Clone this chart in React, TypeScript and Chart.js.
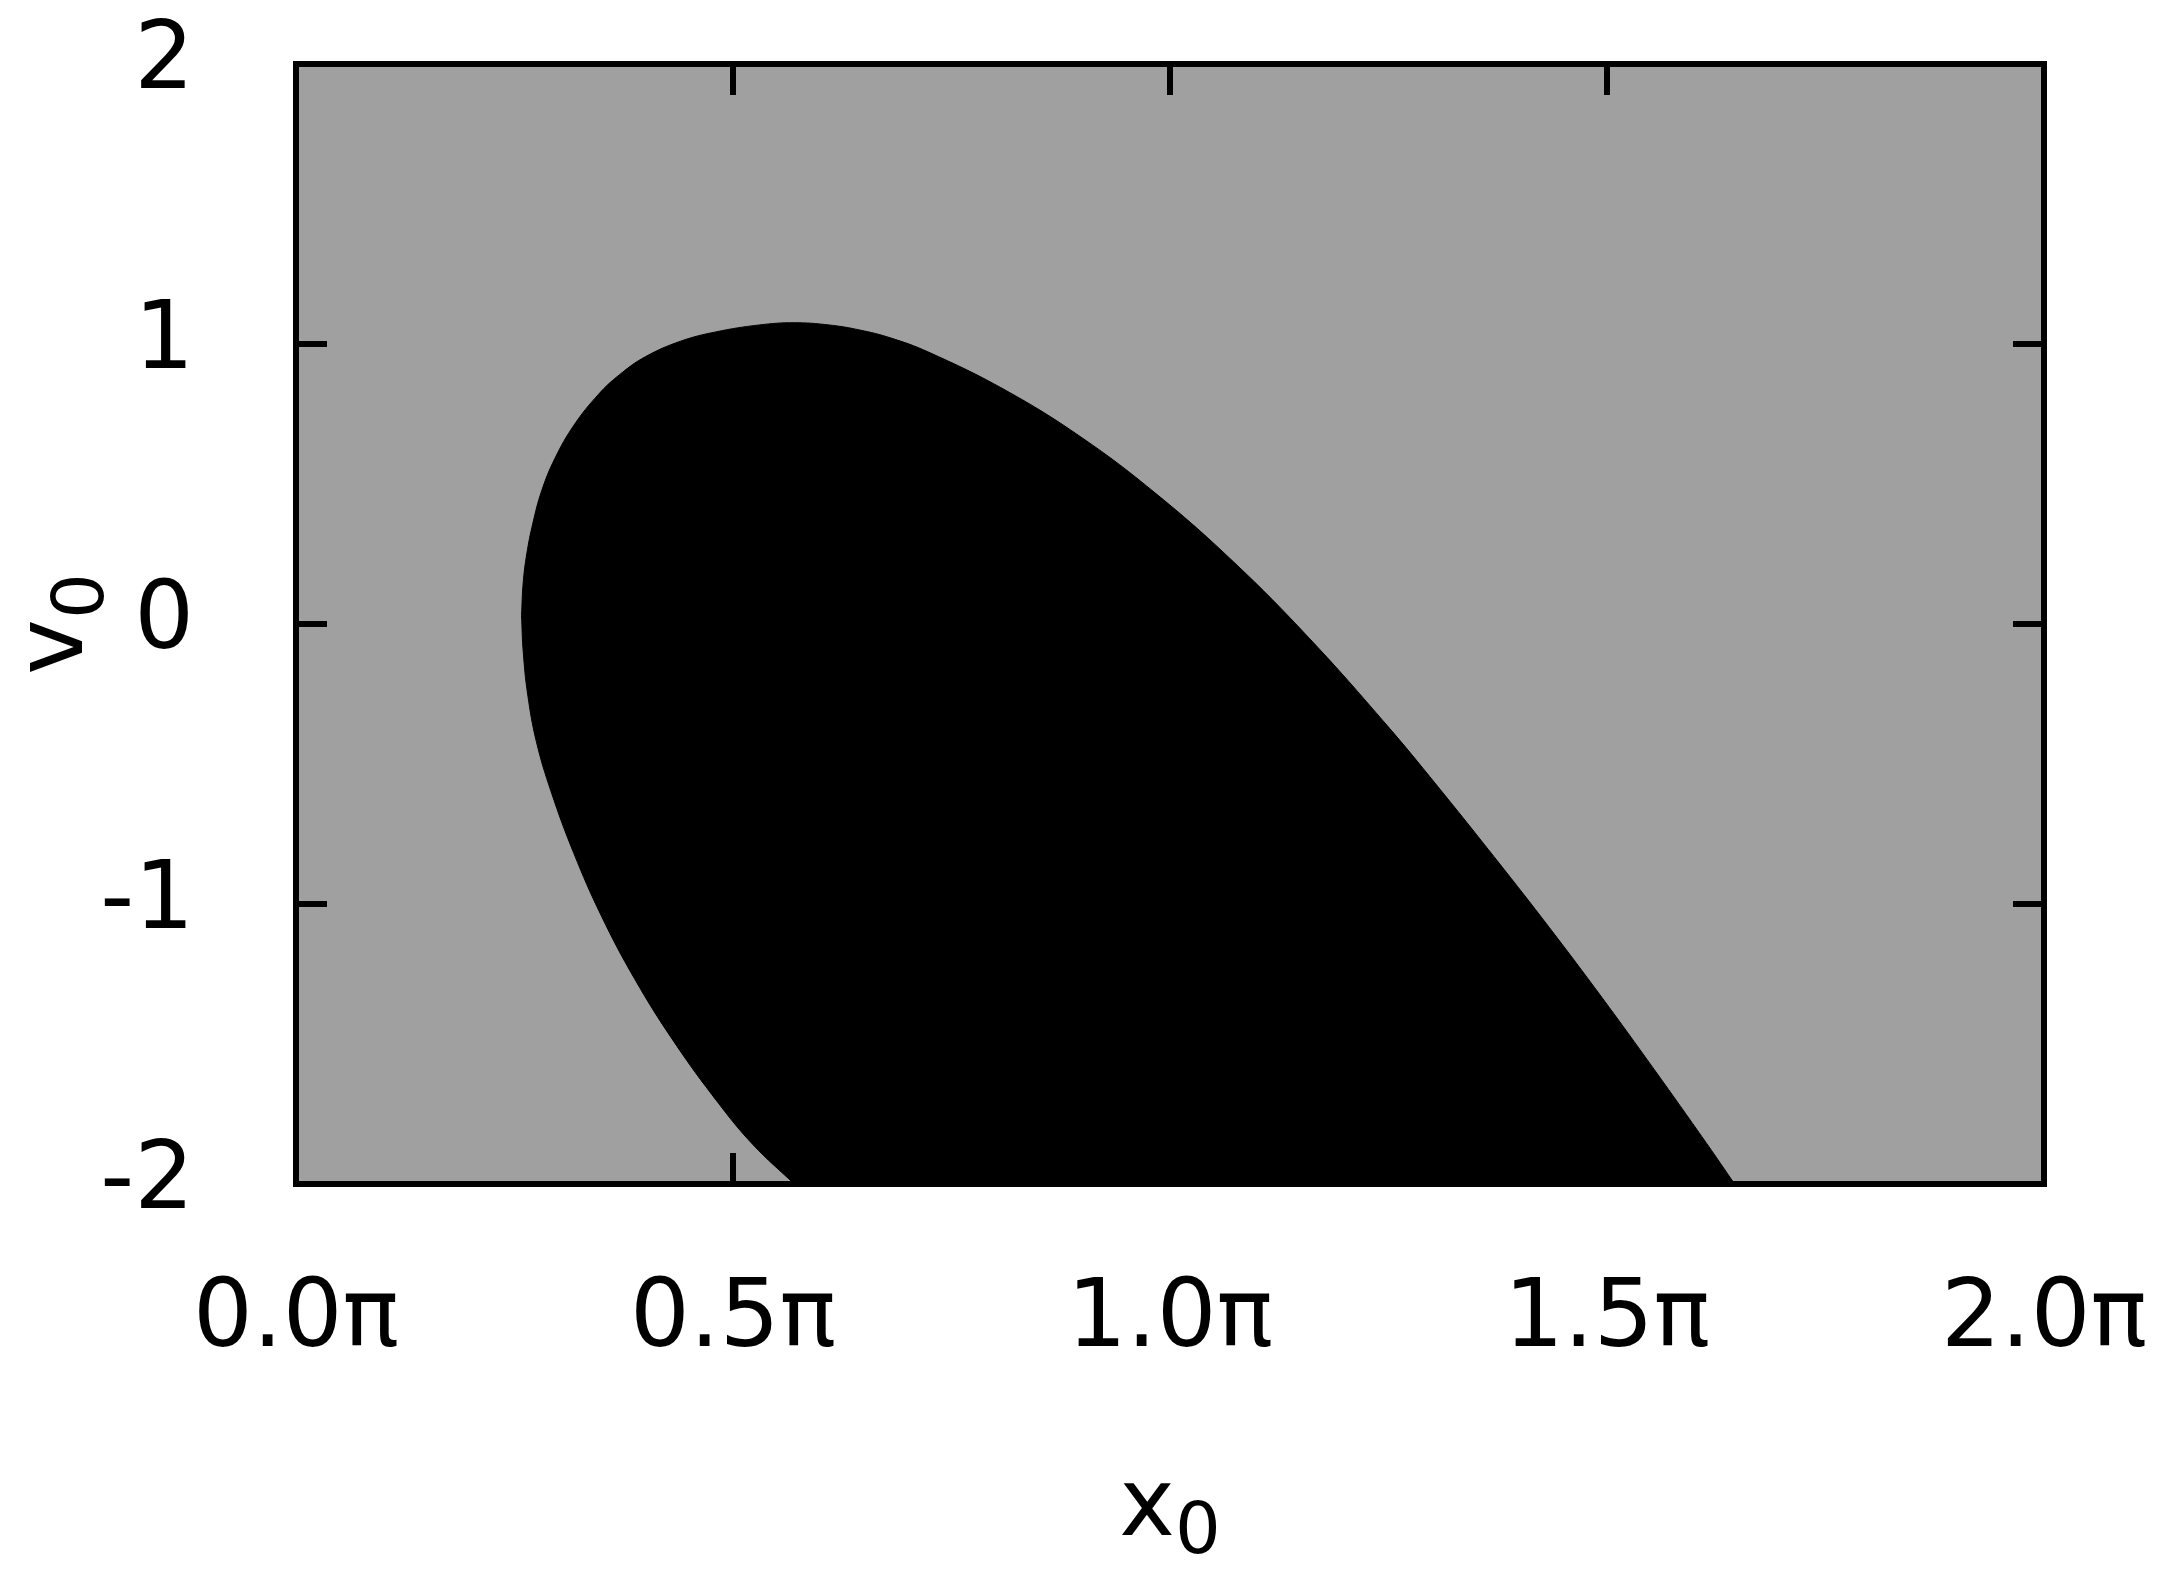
import React, { useEffect, useRef } from "react";
import { Chart, registerables } from "chart.js";

Chart.register(...registerables);

// x values are in units of π (points below v = -2 are clipped by the plot frame)
const upperBoundaryX = [0.258, 0.26, 0.264, 0.271, 0.281, 0.296, 0.318, 0.346, 0.37, 0.4, 0.44, 0.48, 0.53, 0.57, 0.61, 0.645, 0.68, 0.723, 0.81, 0.898, 0.985, 1.073, 1.16, 1.248, 1.305, 1.374, 1.434, 1.494, 1.554, 1.614, 1.646, 1.69];
const upperBoundaryV = [0.03, 0.15, 0.25, 0.36, 0.475, 0.59, 0.71, 0.82, 0.89, 0.955, 1.01, 1.043, 1.068, 1.076, 1.068, 1.05, 1.022, 0.972, 0.838, 0.668, 0.463, 0.221, -0.053, -0.361, -0.575, -0.844, -1.084, -1.333, -1.591, -1.855, -2.0, -2.2];
const lowerBoundaryX = [0.258, 0.26, 0.265, 0.275, 0.292, 0.318, 0.349, 0.387, 0.432, 0.483, 0.523, 0.57, 0.62, 1.0, 1.4, 1.69];
const lowerBoundaryV = [0.03, -0.1, -0.25, -0.42, -0.6, -0.82, -1.04, -1.265, -1.49, -1.71, -1.86, -2.0, -2.15, -2.2, -2.2, -2.2];

const xTickValues = [0, 0.5, 1, 1.5, 2];
const yTickValues = [-2, -1, 0, 1, 2];
const xAxisTitle = ["x", "0"];
const yAxisTitle = ["v", "0"];

const PLOT_BG = "#a0a0a0";
const FONT = "'DejaVu Sans', Verdana, sans-serif";

const bgPlugin = {
  id: "plotBg",
  beforeDatasetsDraw(chart: any) {
    const { ctx, chartArea } = chart;
    const { left, top, right, bottom } = chartArea;
    ctx.save();
    ctx.fillStyle = PLOT_BG;
    ctx.fillRect(left, top, right - left, bottom - top);
    ctx.restore();
  },
};

const framePlugin = {
  id: "frameTicks",
  afterDatasetsDraw(chart: any) {
    const { ctx, chartArea, scales } = chart;
    const { left, top, right, bottom } = chartArea;
    const tl = 31;
    ctx.save();
    ctx.strokeStyle = "#000";
    ctx.lineWidth = 6;
    ctx.lineCap = "butt";
    ctx.beginPath();
    for (const v of xTickValues) {
      const px = scales.x.getPixelForValue(v);
      ctx.moveTo(px, bottom);
      ctx.lineTo(px, bottom - tl);
      ctx.moveTo(px, top);
      ctx.lineTo(px, top + tl);
    }
    for (const v of yTickValues) {
      const py = scales.y.getPixelForValue(v);
      ctx.moveTo(left, py);
      ctx.lineTo(left + tl, py);
      ctx.moveTo(right, py);
      ctx.lineTo(right - tl, py);
    }
    ctx.stroke();
    ctx.lineJoin = "miter";
    ctx.strokeRect(left, top, right - left, bottom - top);
    ctx.restore();
  },
};

const titlePlugin = {
  id: "subTitles",
  afterDraw(chart: any) {
    const { ctx, chartArea } = chart;
    const { left, top, right, bottom } = chartArea;
    ctx.save();
    ctx.fillStyle = "#000";
    ctx.textBaseline = "alphabetic";
    ctx.textAlign = "left";
    const mainFont = `94px ${FONT}`;
    const subFont = `72px ${FONT}`;

    // x title
    ctx.font = mainFont;
    const wx = ctx.measureText(xAxisTitle[0]).width;
    ctx.font = subFont;
    const wx0 = ctx.measureText(xAxisTitle[1]).width;
    const cx = (left + right) / 2;
    const sx = cx - (wx + wx0) / 2;
    const by = bottom + 351;
    ctx.font = mainFont;
    ctx.fillText(xAxisTitle[0], sx, by);
    ctx.font = subFont;
    ctx.fillText(xAxisTitle[1], sx + wx, by + 18);

    // y title (rotated)
    ctx.font = mainFont;
    const wv = ctx.measureText(yAxisTitle[0]).width;
    ctx.font = subFont;
    const wv0 = ctx.measureText(yAxisTitle[1]).width;
    const cy = (top + bottom) / 2;
    ctx.translate(82, cy);
    ctx.rotate(-Math.PI / 2);
    const sv = -(wv + wv0) / 2;
    ctx.font = mainFont;
    ctx.fillText(yAxisTitle[0], sv, 0);
    ctx.font = subFont;
    ctx.fillText(yAxisTitle[1], sv + wv, 21);
    ctx.restore();
  },
};

const zeroPad = (scale: any) => {
  scale.paddingTop = 0;
  scale.paddingBottom = 0;
  scale.paddingLeft = 0;
  scale.paddingRight = 0;
};

export default function App() {
  const ref = useRef<HTMLCanvasElement | null>(null);

  useEffect(() => {
    if (!ref.current) return;
    const upper = upperBoundaryX.map((x, i) => ({ x, y: upperBoundaryV[i] }));
    const lower = lowerBoundaryX.map((x, i) => ({ x, y: lowerBoundaryV[i] }));
    const chart = new Chart(ref.current, {
      type: "line",
      data: {
        datasets: [
          {
            label: "upper",
            data: upper,
            borderColor: "#000",
            borderWidth: 1,
            pointRadius: 0,
            fill: false,
            tension: 0.4,
          },
          {
            label: "lower",
            data: lower,
            borderColor: "#000",
            borderWidth: 1,
            pointRadius: 0,
            backgroundColor: "#000",
            fill: "-1",
            tension: 0.4,
          },
        ],
      },
      options: {
        animation: false,
        responsive: false,
        devicePixelRatio: 1,
        events: [],
        layout: { padding: { left: 0, top: 64, right: 126, bottom: 0 } },
        plugins: {
          legend: { display: false },
          tooltip: { enabled: false },
          title: { display: false },
        },
        scales: {
          x: {
            type: "linear",
            min: 0,
            max: 2,
            grid: { display: false, drawTicks: false },
            border: { display: false },
            afterBuildTicks: (scale: any) => {
              scale.ticks = xTickValues.map((v) => ({ value: v }));
            },
            afterFit: (scale: any) => {
              scale.height = 387;
              zeroPad(scale);
            },
            ticks: {
              padding: 81,
              color: "#000",
              font: { family: FONT, size: 94 },
              maxRotation: 0,
              autoSkip: false,
              callback: (v: any) => Number(v).toFixed(1) + "π",
            },
          },
          y: {
            type: "linear",
            min: -2,
            max: 2,
            grid: { display: false, drawTicks: false },
            border: { display: false },
            afterBuildTicks: (scale: any) => {
              scale.ticks = yTickValues.map((v) => ({ value: v }));
            },
            afterFit: (scale: any) => {
              scale.width = 296;
              zeroPad(scale);
            },
            ticks: {
              padding: 102,
              color: "#000",
              font: { family: FONT, size: 94 },
              autoSkip: false,
              callback: (v: any) => String(v),
            },
          },
        },
      },
      plugins: [bgPlugin, framePlugin, titlePlugin],
    });
    return () => chart.destroy();
  }, []);

  return (
    <div style={{ position: "absolute", left: 0, top: 0, width: 2170, height: 1571, background: "#fff" }}>
      <canvas ref={ref} width={2170} height={1571} style={{ width: 2170, height: 1571, display: "block" }} />
    </div>
  );
}
